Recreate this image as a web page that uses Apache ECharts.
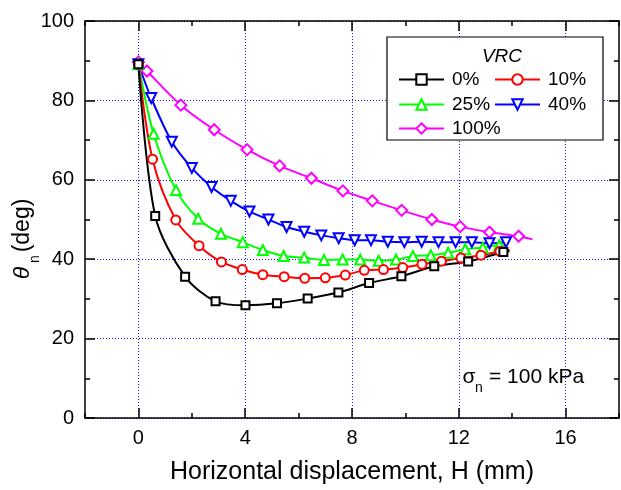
<!DOCTYPE html>
<html>
<head>
<meta charset="utf-8">
<script src="https://cdn.jsdelivr.net/npm/echarts@6/dist/echarts.min.js"></script>
<style>
html,body{margin:0;padding:0;background:#fff;}
#chart{width:621px;height:490px;}
</style>
</head>
<body>
<div id="chart"></div>
<script>
// ---- data ----
const seriesNames = ['0%', '10%', '25%', '40%', '100%'];
const xTickLabels = [0, 4, 8, 12, 16];
const yTickLabels = [0, 20, 40, 60, 80, 100];

const h0 = [0, 0.63, 1.75, 2.89, 4.01, 5.19, 6.34, 7.49, 8.64, 9.85, 11.08, 12.35, 13.67];
const t0 = [89.1, 50.9, 35.6, 29.4, 28.4, 28.9, 30.1, 31.6, 34.0, 35.7, 38.2, 39.4, 41.8];
const end0 = [13.9, 42.0];

const h10 = [0, 0.53, 1.40, 2.27, 3.11, 3.89, 4.66, 5.46, 6.23, 7.0, 7.75, 8.46, 9.18, 9.9, 10.62, 11.35, 12.08, 12.83, 13.54];
const t10 = [89.1, 65.2, 49.9, 43.4, 39.3, 37.4, 36.1, 35.6, 35.2, 35.3, 36.0, 37.2, 37.4, 37.9, 38.7, 39.5, 40.3, 41.0, 42.0];
const end10 = [13.9, 42.3];

const h25 = [0, 0.57, 1.41, 2.24, 3.09, 3.91, 4.66, 5.44, 6.21, 6.95, 7.65, 8.31, 9.0, 9.65, 10.28, 10.95, 11.6, 12.24, 12.9, 13.52];
const t25 = [89.1, 71.6, 57.4, 50.2, 46.4, 44.3, 42.3, 40.8, 40.4, 39.8, 39.9, 39.9, 39.6, 39.9, 40.8, 41.0, 41.6, 42.5, 42.9, 43.5];
const end25 = [13.75, 43.3];

const h40 = [0, 0.48, 1.25, 2.0, 2.74, 3.46, 4.16, 4.87, 5.55, 6.21, 6.85, 7.5, 8.1, 8.71, 9.34, 9.96, 10.61, 11.24, 11.88, 12.49, 13.15, 13.77];
const t40 = [89.1, 80.6, 69.6, 63.0, 58.2, 54.7, 52.0, 50.0, 48.1, 46.9, 46.0, 45.3, 44.8, 44.8, 44.4, 44.3, 44.4, 44.3, 44.3, 44.3, 44.0, 44.3];

const h100 = [0, 0.32, 1.59, 2.84, 4.07, 5.29, 6.48, 7.66, 8.76, 9.86, 10.99, 12.05, 13.15, 14.24];
const t100 = [89.7, 87.4, 78.8, 72.6, 67.6, 63.5, 60.4, 57.2, 54.7, 52.3, 50.0, 48.2, 46.8, 45.8];
const end100 = [14.76, 45.0];

// ---- build ----
const FONT = '"Liberation Sans", Arial, sans-serif';
function pts(h, t, end) {
  const d = h.map((x, i) => [x, t[i]]);
  if (end) d.push({ value: end, symbol: 'none' });
  return d;
}
function mk(name, data, color, symbol, size, rot) {
  return {
    name: name, type: 'line', data: data, smooth: 0.3,
    symbol: symbol, symbolSize: size, symbolRotate: rot || 0,
    showAllSymbol: true,
    lineStyle: { color: color, width: 2 },
    itemStyle: { color: '#fff', borderColor: color, borderWidth: 2 },
    emphasis: { disabled: true },
    animation: false
  };
}
const gridStyle = { color: '#1a1aff', width: 1, type: [1, 2] };
const axisLineStyle = { color: '#000', width: 1.5 };
const tickStyle = { color: '#000', width: 1.5 };

const xBase = { type: 'value', min: -2, max: 18, interval: 2 };
const yBase = { type: 'value', min: 0, max: 100, interval: 20 };

const option = {
  backgroundColor: '#fff',
  animation: false,
  grid: { left: 85, right: 2, top: 21, bottom: 66 },
  xAxis: [
    Object.assign({}, xBase, {
      position: 'bottom',
      axisLine: { show: true, onZero: false, lineStyle: axisLineStyle },
      axisTick: { show: true, inside: true, length: 10, customValues: xTickLabels, lineStyle: tickStyle },
      axisLabel: { customValues: xTickLabels, margin: 10, fontSize: 20, color: '#000', fontFamily: FONT },
      splitLine: { show: true, lineStyle: gridStyle },
      name: 'Horizontal displacement, H (mm)', nameLocation: 'middle', nameGap: 42,
      nameTextStyle: { fontSize: 25, color: '#000', fontFamily: FONT }
    }),
    Object.assign({}, xBase, {
      position: 'bottom',
      axisLine: { show: false, onZero: false },
      axisTick: { show: true, inside: true, length: 5, lineStyle: tickStyle },
      axisLabel: { show: false }, splitLine: { show: false }
    }),
    Object.assign({}, xBase, {
      position: 'top',
      axisLine: { show: true, onZero: false, lineStyle: axisLineStyle },
      axisTick: { show: true, inside: true, length: 10, customValues: xTickLabels, lineStyle: tickStyle },
      axisLabel: { show: false, customValues: xTickLabels }, splitLine: { show: false }
    }),
    Object.assign({}, xBase, {
      position: 'top',
      axisLine: { show: false, onZero: false },
      axisTick: { show: true, inside: true, length: 5, lineStyle: tickStyle },
      axisLabel: { show: false }, splitLine: { show: false }
    })
  ],
  yAxis: [
    Object.assign({}, yBase, {
      position: 'left',
      axisLine: { show: true, onZero: false, lineStyle: axisLineStyle },
      axisTick: { show: true, inside: true, length: 10, lineStyle: tickStyle },
      minorTick: { show: true, splitNumber: 2, length: 5, lineStyle: tickStyle },
      axisLabel: { margin: 11, fontSize: 20, color: '#000', fontFamily: FONT },
      splitLine: { show: true, lineStyle: gridStyle }
    }),
    Object.assign({}, yBase, {
      position: 'right',
      axisLine: { show: true, onZero: false, lineStyle: axisLineStyle },
      axisTick: { show: true, inside: true, length: 10, lineStyle: tickStyle },
      minorTick: { show: true, splitNumber: 2, length: 5, lineStyle: tickStyle },
      axisLabel: { show: false }, splitLine: { show: false }
    })
  ],
  legend: [
    ['0%', 398, 70], ['10%', 494, 70], ['25%', 398, 95], ['40%', 494, 95], ['100%', 398, 119]
  ].map(function (a) {
    return {
      data: [a[0]], left: a[1], top: a[2], padding: 0,
      itemWidth: 45, itemHeight: 13, z: 10,
      textStyle: { fontSize: 19, color: '#000', fontFamily: FONT, padding: [0, 0, 0, 3] },
      selectedMode: false
    };
  }),
  graphic: [
    { type: 'rect', z: 8, shape: { x: 387, y: 37, width: 216, height: 103 },
      style: { fill: '#fff', stroke: '#000', lineWidth: 1.2 } },
    { type: 'text', z: 9, x: 502, y: 57,
      style: { text: 'VRC', fontSize: 19, fontStyle: 'italic', fontFamily: FONT, fill: '#000', align: 'center', verticalAlign: 'middle' } },
    { type: 'text', z: 9, x: 23, y: 273, rotation: Math.PI / 2,
      style: { text: 'θ', fontSize: 23, fontStyle: 'italic', fontFamily: FONT, fill: '#000', align: 'center', verticalAlign: 'middle' } },
    { type: 'text', z: 9, x: 35, y: 259, rotation: Math.PI / 2,
      style: { text: 'n', fontSize: 14, fontFamily: FONT, fill: '#000', align: 'center', verticalAlign: 'middle' } },
    { type: 'text', z: 9, x: 23, y: 225.5, rotation: Math.PI / 2,
      style: { text: '(deg)', fontSize: 23, fontFamily: FONT, fill: '#000', align: 'center', verticalAlign: 'middle' } },
    { type: 'text', z: 9, x: 469, y: 377,
      style: { text: 'σ', fontSize: 21, fontFamily: FONT, fill: '#000', align: 'center', verticalAlign: 'middle' } },
    { type: 'text', z: 9, x: 479, y: 388,
      style: { text: 'n', fontSize: 14, fontFamily: FONT, fill: '#000', align: 'center', verticalAlign: 'middle' } },
    { type: 'text', z: 9, x: 489, y: 377,
      style: { text: '= 100 kPa', fontSize: 21, fontFamily: FONT, fill: '#000', align: 'left', verticalAlign: 'middle' } }
  ],
  series: [
    mk('100%', pts(h100, t100, end100), '#ff00ff', 'diamond', 11),
    mk('40%', pts(h40, t40, null), '#0000ff', 'triangle', 10, 180),
    mk('25%', pts(h25, t25, end25), '#00ff00', 'triangle', 10),
    mk('10%', pts(h10, t10, end10), '#ff0000', 'circle', 9),
    mk('0%', pts(h0, t0, end0), '#000000', 'rect', 8)
  ]
};
const chart = echarts.init(document.getElementById('chart'), null, { renderer: 'canvas' });
chart.setOption(option);
</script>
</body>
</html>
